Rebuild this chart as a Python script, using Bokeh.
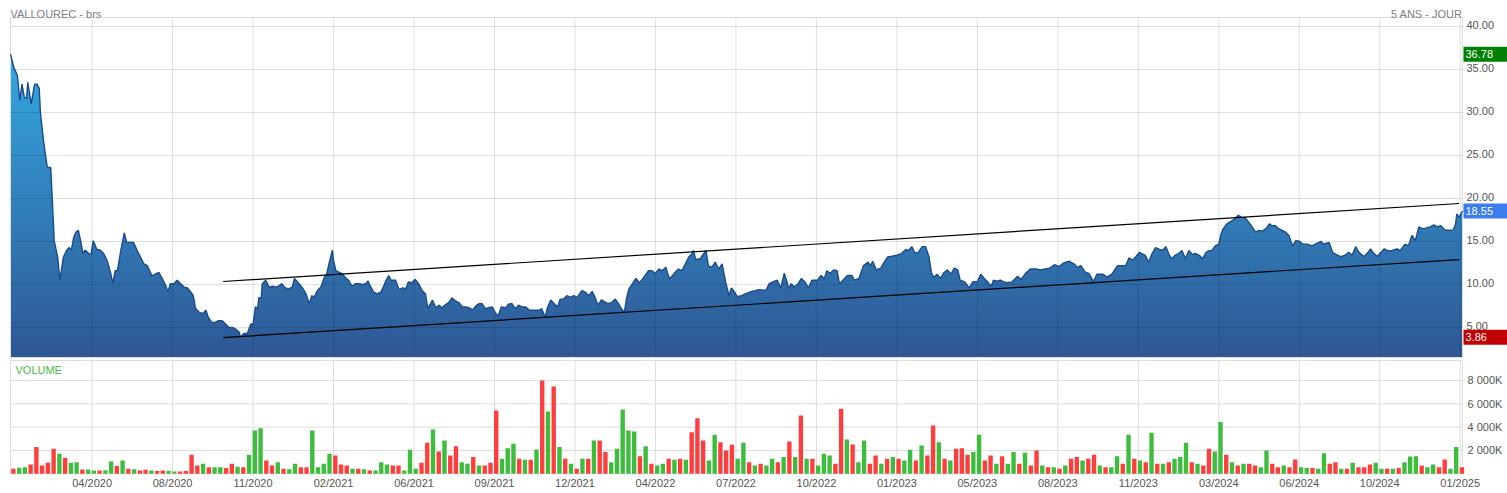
import numpy as np
from bokeh.plotting import figure
from bokeh.layouts import column
from bokeh.models import Range1d
from bokeh.core.properties import value
from bokeh.embed import file_html
from bokeh.resources import INLINE

TITLE = "VALLOUREC - brs"
PERIOD = "5 ANS - JOUR"
FONT = "Liberation Sans"

# trading-day index (0 = early Jan 2020, 1263 = early Jan 2025)
N_DAYS = 1263

PRICE_DAY = [
    0, 3, 6, 8, 10, 12, 14, 15, 18, 21, 23, 25, 26, 29, 32, 35, 36, 38, 41, 43,
    46, 49, 51, 53, 55, 57, 59, 61, 63, 65, 68, 70, 72, 75, 78, 81, 84, 87, 89, 91,
    93, 96, 99, 101, 104, 107, 110, 113, 116, 119, 121, 123, 126, 129, 132, 135, 137, 139, 142, 145,
    148, 151, 154, 157, 159, 161, 164, 167, 170, 172, 175, 178, 181, 184, 187, 190, 193, 196, 199, 200,
    203, 206, 209, 211, 213, 215, 216, 218, 219, 222, 225, 228, 231, 233, 236, 239, 242, 245, 247, 251,
    254, 257, 260, 262, 264, 267, 270, 273, 275, 277, 280, 281, 283, 286, 289, 291, 294, 297, 300, 303,
    306, 309, 311, 313, 316, 319, 322, 325, 326, 329, 331, 335, 338, 341, 344, 346, 349, 352, 355, 358,
    361, 363, 367, 370, 373, 375, 378, 381, 384, 387, 390, 393, 396, 399, 402, 404, 407, 410, 413, 416,
    419, 421, 424, 427, 431, 433, 436, 439, 442, 445, 448, 451, 454, 457, 460, 462, 465, 467, 470, 473,
    476, 478, 481, 484, 487, 490, 493, 495, 497, 500, 503, 506, 509, 511, 514, 518, 520, 523, 526, 529,
    532, 534, 536, 538, 541, 544, 547, 549, 552, 555, 558, 561, 564, 567, 570, 573, 576, 578, 581, 584,
    587, 590, 593, 594, 596, 600, 602, 605, 607, 610, 613, 616, 619, 622, 625, 627, 630, 632, 636, 639,
    645, 651, 657, 660, 663, 667, 670, 673, 675, 677, 679, 682, 685, 688, 691, 694, 697, 702, 705, 708,
    710, 713, 716, 719, 721, 724, 728, 732, 734, 738, 742, 746, 748, 750, 753, 757, 760, 763, 767, 771,
    775, 779, 781, 784, 787, 790, 793, 796, 799, 801, 803, 806, 809, 812, 815, 818, 821, 824, 826, 830,
    834, 837, 841, 844, 847, 850, 853, 855, 858, 861, 864, 867, 871, 876, 879, 883, 887, 892, 896, 900,
    904, 908, 912, 916, 921, 925, 928, 931, 935, 938, 942, 945, 950, 954, 958, 963, 966, 970, 973, 976,
    979, 982, 984, 987, 990, 993, 996, 999, 1002, 1005, 1008, 1010, 1013, 1016, 1019, 1022, 1025, 1028, 1031, 1034,
    1037, 1040, 1042, 1045, 1048, 1051, 1053, 1055, 1058, 1063, 1066, 1068, 1071, 1074, 1077, 1080, 1083, 1086, 1089, 1092,
    1095, 1097, 1100, 1103, 1106, 1109, 1112, 1115, 1118, 1121, 1124, 1128, 1132, 1135, 1140, 1142, 1147, 1150, 1153, 1157,
    1161, 1164, 1167, 1170, 1173, 1177, 1180, 1183, 1186, 1189, 1192, 1195, 1198, 1202, 1206, 1209, 1213, 1216, 1219, 1222,
    1225, 1228, 1231, 1235, 1238, 1241, 1244, 1248, 1251, 1255, 1257, 1258, 1260, 1263,
]

PRICE = [
    36.78, 35.2, 34.3, 31.4, 33.3, 31.8, 31.6, 33.5, 31.0, 33.3, 33.3, 32.8, 30.0, 26.4, 23.6, 23.6, 20.9, 15.1, 13.2, 10.5,
    13.2, 14.0, 14.3, 14.0, 15.5, 16.1, 16.3, 15.1, 13.6, 14.0, 13.6, 13.5, 15.1, 14.1, 14.0, 13.6, 12.8, 11.4, 10.1, 11.6,
    11.6, 14.0, 16.0, 14.9, 14.9, 14.9, 14.0, 13.2, 12.4, 12.2, 11.6, 11.0, 11.2, 11.4, 10.7, 9.9, 9.1, 10.1, 10.1, 10.5,
    10.1, 9.7, 9.6, 9.1, 8.7, 7.2, 6.8, 6.6, 7.0, 6.2, 5.6, 5.6, 5.8, 5.8, 5.4, 5.0, 5.0, 4.8, 4.45, 3.86,
    4.3, 4.3, 5.4, 5.4, 7.4, 7.2, 8.5, 8.3, 10.1, 10.5, 9.7, 9.8, 9.7, 9.8, 10.1, 9.6, 9.5, 9.7, 10.7, 10.1,
    9.6, 8.9, 7.75, 8.7, 8.5, 9.3, 9.7, 10.85, 11.2, 12.4, 14.0, 12.8, 11.6, 11.4, 11.2, 10.85, 10.5, 9.8, 10.1, 10.1,
    10.0, 10.1, 10.4, 9.8, 9.1, 8.9, 9.1, 9.9, 10.3, 11.05, 10.5, 10.5, 9.4, 9.6, 9.5, 10.3, 10.2, 10.6, 10.1, 9.3,
    8.9, 7.2, 8.2, 7.3, 7.6, 7.3, 7.6, 7.9, 8.45, 8.1, 7.9, 7.4, 7.4, 7.3, 7.05, 7.4, 7.75, 7.8, 7.2, 7.3,
    7.4, 6.9, 6.3, 7.4, 7.3, 7.7, 7.8, 7.2, 7.6, 7.4, 7.4, 7.05, 7.0, 7.0, 7.0, 7.2, 6.2, 7.3, 8.2, 7.75,
    7.4, 8.3, 8.3, 8.7, 8.5, 8.7, 8.5, 8.9, 9.3, 9.1, 8.7, 9.2, 8.3, 7.6, 8.2, 7.9, 7.8, 7.9, 8.3, 7.75,
    7.05, 6.8, 8.5, 9.5, 10.1, 10.7, 10.2, 10.5, 11.05, 11.6, 11.6, 11.3, 11.8, 11.6, 12.0, 10.7, 11.05, 11.4, 11.8, 11.6,
    12.4, 13.2, 13.6, 13.95, 12.9, 13.0, 13.4, 13.95, 12.2, 12.0, 12.6, 11.8, 12.4, 10.3, 8.7, 9.6, 9.1, 8.6, 8.7, 8.9,
    9.2, 9.4, 9.3, 10.1, 10.3, 10.5, 9.6, 11.3, 10.5, 9.5, 10.1, 9.7, 10.1, 10.7, 10.3, 9.6, 10.5, 10.5, 11.05, 10.7,
    11.6, 11.3, 11.7, 11.6, 10.1, 10.5, 11.05, 11.05, 10.5, 10.7, 12.2, 12.6, 12.2, 12.7, 11.7, 11.9, 12.6, 13.2, 13.3, 13.4,
    13.6, 14.1, 13.95, 14.4, 13.6, 13.8, 14.4, 14.4, 13.2, 11.4, 10.85, 11.2, 10.7, 11.4, 11.7, 11.2, 11.9, 11.7, 10.5, 10.3,
    9.6, 10.3, 10.35, 11.2, 10.7, 10.3, 9.8, 10.5, 10.4, 10.5, 10.3, 10.2, 10.3, 10.95, 10.6, 11.3, 11.8, 11.8, 11.7, 11.8,
    11.9, 12.3, 12.1, 12.5, 12.7, 12.4, 12.0, 12.2, 11.4, 11.3, 10.35, 11.2, 11.2, 10.85, 11.2, 12.2, 12.2, 12.2, 13.1, 12.8,
    13.25, 13.75, 13.6, 13.4, 12.6, 13.6, 14.3, 14.1, 13.95, 14.4, 13.4, 13.0, 13.4, 13.6, 13.95, 13.0, 13.95, 13.5, 13.6, 13.4,
    13.0, 13.75, 13.9, 13.95, 14.5, 14.7, 15.9, 16.5, 17.05, 17.45, 17.8, 18.05, 17.8, 17.75, 17.25, 16.7, 16.1, 16.3, 16.2, 16.5,
    17.05, 16.85, 16.85, 16.5, 16.3, 16.1, 15.7, 14.5, 15.1, 15.05, 14.7, 14.7, 14.5, 14.7, 15.0, 14.7, 14.9, 13.75, 13.5, 13.25,
    13.4, 13.75, 13.4, 14.4, 13.75, 13.25, 13.6, 14.15, 13.6, 13.25, 13.75, 14.15, 13.9, 13.95, 14.15, 13.95, 14.7, 14.5, 15.7, 15.1,
    16.7, 16.5, 16.55, 16.7, 16.95, 16.7, 16.85, 16.3, 16.3, 16.35, 17.05, 18.2, 17.8, 18.55,
]

TREND_DAY = [185, 1260]
TREND_UPPER = [10.35, 19.42]
TREND_LOWER = [3.82, 12.90]

HIGH_VAL, LAST_VAL, LOW_VAL = 36.78, 18.55, 3.86

# weekly volume (thousands of shares), one value per 5 trading days
VOL_K = [
    430, 520, 570, 800, 2290, 720, 940, 2140, 1710, 1370,
    940, 1000, 370, 370, 290, 290, 300, 1060, 660, 1140,
    430, 400, 290, 350, 290, 250, 290, 250, 200, 200,
    230, 1630, 720, 860, 570, 570, 570, 500, 860, 600,
    570, 1630, 3710, 3910, 1140, 715, 1000, 430, 400, 860,
    570, 570, 3710, 570, 860, 1710, 1570, 800, 720, 430,
    430, 400, 290, 290, 1000, 800, 720, 720,
    290, 2060, 430, 940, 2660, 3800, 1910, 2860, 1570, 2370,
    1000, 860, 1430, 720, 720, 940, 5430, 1300, 2200, 2570,
    1300, 1200, 1200, 2090, 8000, 5340, 7490, 2290, 1300, 860,
    430, 1300, 1300, 2860, 2860, 1860, 1000, 2140, 5510, 3710,
    3630, 1500, 2370, 860, 720, 860, 1300, 1200, 1300, 1200,
    3570, 4770, 2860, 1140, 3340, 2710, 2000, 2490, 1300, 2660,
    1000, 720, 860, 720, 1300, 1000, 1430, 2770, 1430,
    5000, 1300, 1300, 720, 1710, 1570, 860, 5570, 2940, 2510,
    1000, 2860, 860, 1570, 860, 1300, 1430, 1300, 1140, 2060,
    1140, 2430, 1570, 4140, 2710, 1300, 1140, 2140, 2200, 1630,
    1860, 3340, 1140, 1570, 860, 1500, 860, 1860, 860, 1800,
    720, 2000, 720, 570, 570, 430, 720, 1300, 1430, 1140,
    1300, 1630, 720, 570, 570, 1500, 860, 3340, 1300, 1140,
    1000, 3510, 860, 860, 1000, 1300, 1430, 2660, 1000, 860,
    720, 2140, 1910, 4430, 1630, 1000, 720, 860, 860, 720,
    570, 2000, 860, 570, 720, 570, 1230, 570,
    500, 500, 430, 1770, 860, 1000, 430, 430, 940, 570,
    570, 800, 940, 430, 430, 430, 500, 1000, 1490, 1510,
    720, 570, 800, 570, 1230, 430, 2290, 570,
]

# 1 = up week (green), 0 = down week (red)
VOL_UP = [
    0, 1, 1, 0, 0, 0, 0, 0, 1, 0,
    1, 1, 0, 1, 1, 0, 1, 1, 0, 1,
    0, 1, 0, 0, 1, 0, 0, 1, 1, 0,
    0, 0, 0, 1, 0, 1, 1, 0, 0, 1,
    0, 1, 1, 1, 0, 0, 1, 0, 1, 1,
    0, 0, 1, 1, 1, 1, 0, 0, 0, 1,
    0, 1, 0, 1, 1, 1, 0, 0,
    1, 1, 1, 0, 0, 1, 0, 1, 0, 0,
    1, 1, 0, 1, 0, 0, 0, 1, 1, 1,
    0, 1, 0, 1, 0, 1, 0, 1, 0, 1,
    0, 1, 0, 1, 0, 0, 1, 1, 1, 1,
    1, 0, 1, 0, 1, 1, 0, 1, 0, 1,
    0, 0, 0, 1, 1, 0, 0, 0, 1, 1,
    0, 1, 0, 1, 1, 0, 1, 0, 1,
    0, 1, 0, 1, 1, 1, 0, 0, 1, 0,
    1, 1, 0, 0, 1, 0, 1, 0, 1, 1,
    0, 1, 0, 0, 1, 0, 1, 0, 0, 0,
    1, 1, 0, 0, 1, 0, 1, 1, 0, 1,
    0, 0, 1, 0, 1, 0, 1, 0, 0, 1,
    0, 0, 1, 0, 1, 1, 0, 1, 0, 1,
    0, 1, 0, 1, 0, 1, 1, 1, 0, 1,
    0, 0, 1, 1, 0, 1, 0, 1, 0, 0,
    1, 1, 0, 0, 1, 0, 0, 1,
    1, 0, 1, 1, 0, 0, 1, 0, 1, 0,
    0, 0, 1, 1, 0, 1, 0, 1, 1, 1,
    0, 1, 1, 0, 0, 1, 1, 0,
]

DATE_TICK_DAYS = [71, 141, 211, 281, 351, 421, 491, 561, 631, 701,
                  771, 841, 911, 981, 1051, 1121, 1191, 1261]
DATE_LABELS = ["04/2020", "08/2020", "11/2020", "02/2021", "06/2021", "09/2021",
               "12/2021", "04/2022", "07/2022", "10/2022", "01/2023", "05/2023",
               "08/2023", "11/2023", "03/2024", "06/2024", "10/2024", "01/2025"]
PRICE_TICKS = [5, 10, 15, 20, 25, 30, 35, 40]
VOL_TICKS = [2000, 4000, 6000, 8000]
VOL_TICK_LABELS = ["2 000K", "4 000K", "6 000K", "8 000K"]

# ---------------------------------------------------------------- layout constants
W = 1507
PLOT_L, PLOT_W = 10, 1452          # plotting area of both panels (px)
PX_DAY = PLOT_W / N_DAYS
X_START = -PLOT_L / PX_DAY
X_END = N_DAYS + (W - PLOT_L - PLOT_W) / PX_DAY

PX_UNIT = 8.6                      # px per euro
P_H = 358                          # price panel canvas height
AREA_TOP_PX, AREA_BOT_PX = 17, 357
GRID40_PX = 26
Y_END = 40 + GRID40_PX / PX_UNIT
Y_START = Y_END - P_H / PX_UNIT
Y_TOP = Y_END - AREA_TOP_PX / PX_UNIT
Y_BASE = Y_END - AREA_BOT_PX / PX_UNIT

V_H = 135                          # volume panel canvas height
PX_VOL = 23.33 / 2000              # px per thousand shares
V_FRAME_TOP_PX, V_BASE_PX, V_LABEL_PX = 2, 115.3, 124
V_END = V_BASE_PX / PX_VOL
V_START = -(V_H - V_BASE_PX) / PX_VOL
V_TOP = (V_BASE_PX - V_FRAME_TOP_PX) / PX_VOL

GRID_C = "#dddddd"
TXT_C = "#555555"
F11 = value("11px")
FF = value(FONT)


def bare_figure(height, y0, y1):
    f = figure(width=W, height=height, x_range=Range1d(X_START, X_END), y_range=Range1d(y0, y1),
               x_axis_location=None, y_axis_location=None, toolbar_location=None,
               output_backend="svg", min_border=0)
    f.outline_line_color = None
    f.background_fill_color = "white"
    f.border_fill_color = "white"
    f.xgrid.visible = False
    f.ygrid.visible = False
    return f


# ---------------------------------------------------------------- price panel
p = bare_figure(P_H, Y_START, Y_END)

# vertical gradient under the price area, masked above the price line
H = 256
t = np.linspace(0.0, 1.0, H)
bot = np.array([46, 88, 149], dtype=float)
top = np.array([54, 178, 234], dtype=float)
cols = (bot[None, :] + t[:, None] * (top - bot)[None, :]).astype(np.uint8)
img = np.zeros((H, 1), dtype=np.uint32)
view = img.view(dtype=np.uint8).reshape((H, 1, 4))
view[:, 0, 0] = cols[:, 0]
view[:, 0, 1] = cols[:, 1]
view[:, 0, 2] = cols[:, 2]
view[:, 0, 3] = 255
p.image_rgba(image=[img], x=0, y=Y_BASE, dw=N_DAYS, dh=Y_TOP - Y_BASE)
p.varea(x=PRICE_DAY, y1=PRICE, y2=[Y_TOP] * len(PRICE), fill_color="white", fill_alpha=1.0)

# grid lines (over the area, translucent)
p.segment(x0=[0] * len(PRICE_TICKS), x1=[N_DAYS] * len(PRICE_TICKS), y0=PRICE_TICKS, y1=PRICE_TICKS,
          line_color="black", line_alpha=0.12, line_width=1)
p.segment(x0=DATE_TICK_DAYS, x1=DATE_TICK_DAYS, y0=[Y_BASE] * len(DATE_TICK_DAYS),
          y1=[Y_TOP] * len(DATE_TICK_DAYS), line_color="black", line_alpha=0.12, line_width=1)
p.quad(left=[0], right=[N_DAYS], bottom=[Y_BASE], top=[Y_TOP], fill_color=None,
       line_color=GRID_C, line_width=1)

p.line(PRICE_DAY, PRICE, line_color="#1a4c8c", line_width=1.4)
p.line(TREND_DAY, TREND_UPPER, line_color="black", line_width=1.2)
p.line(TREND_DAY, TREND_LOWER, line_color="black", line_width=1.2)

# right-hand price scale
p.text(x=[N_DAYS + 4 / PX_DAY] * len(PRICE_TICKS), y=[tk + 0.15 for tk in PRICE_TICKS],
       text=[f"{tk:.2f}" for tk in PRICE_TICKS], text_font=FF, text_font_size=F11,
       text_color=TXT_C, text_align="left", text_baseline="middle")

# highest / last / lowest value tags
for val, col in [(HIGH_VAL, "#008000"), (LAST_VAL, "#3b7cee"), (LOW_VAL, "#c30000")]:
    p.rect(x=[N_DAYS + 23 / PX_DAY], y=[val], width=44, height=15, width_units="screen",
           height_units="screen", fill_color=col, line_color=None)
    p.text(x=[N_DAYS + 3 / PX_DAY], y=[val], text=[f"{val:.2f}"], text_font=FF,
           text_font_size=F11, text_color="white", text_align="left", text_baseline="middle")

# headers
p.text(x=[0], y=[Y_TOP + 4 / PX_UNIT], text=[TITLE], text_font=FF, text_font_size=F11,
       text_color="#808080", text_align="left", text_baseline="alphabetic")
p.text(x=[N_DAYS], y=[Y_TOP + 4 / PX_UNIT], text=[PERIOD], text_font=FF, text_font_size=F11,
       text_color="#808080", text_align="right", text_baseline="alphabetic")

# ---------------------------------------------------------------- volume panel
v = bare_figure(V_H, V_START, V_END)

n = min(len(VOL_K), len(VOL_UP))
vol_day = [5 * k + 2.5 for k in range(n)]
vol_col = ["#3dbd3d" if VOL_UP[k] else "#ff3d3d" for k in range(n)]

v.segment(x0=[0] * len(VOL_TICKS), x1=[N_DAYS] * len(VOL_TICKS), y0=VOL_TICKS, y1=VOL_TICKS,
          line_color=GRID_C, line_width=1)
v.segment(x0=DATE_TICK_DAYS, x1=DATE_TICK_DAYS, y0=[0] * len(DATE_TICK_DAYS),
          y1=[V_TOP] * len(DATE_TICK_DAYS), line_color=GRID_C, line_width=1)
v.quad(left=[0], right=[N_DAYS], bottom=[0], top=[V_TOP], fill_color=None,
       line_color=GRID_C, line_width=1)

v.vbar(x=vol_day, top=VOL_K[:n], bottom=0, width=3.8, color=vol_col, line_width=0)

# volume scale (right) and date labels (below)
v.text(x=[N_DAYS + 5 / PX_DAY] * len(VOL_TICKS), y=VOL_TICKS, text=VOL_TICK_LABELS,
       text_font=FF, text_font_size=F11, text_color=TXT_C, text_align="left",
       text_baseline="middle")
v.text(x=DATE_TICK_DAYS, y=[-(V_LABEL_PX - V_BASE_PX) / PX_VOL] * len(DATE_TICK_DAYS),
       text=DATE_LABELS, text_font=FF, text_font_size=F11, text_color=TXT_C,
       text_align="center", text_baseline="middle")
v.text(x=[5 / PX_DAY], y=[V_TOP - 9 / PX_VOL], text=["VOLUME"], text_font=FF,
       text_font_size=F11, text_color="#44bb44", text_align="left", text_baseline="middle")

layout = column(p, v)
open("out.html", "w").write(file_html(layout, INLINE))
